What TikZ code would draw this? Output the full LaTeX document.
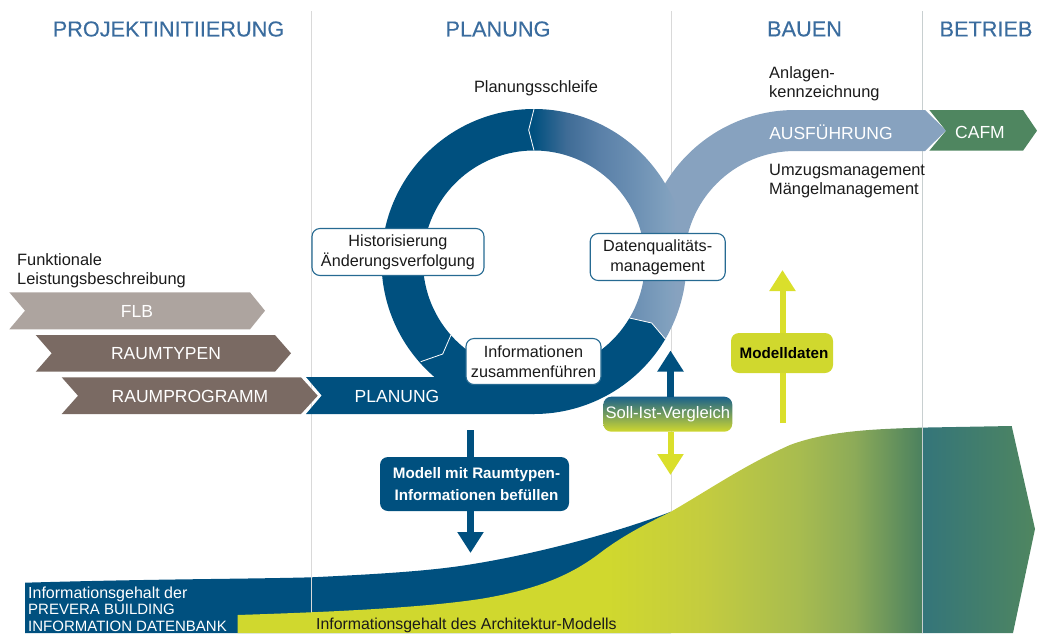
\documentclass[tikz,border=0pt]{standalone}
\usepackage{fontspec}
\setmainfont{Liberation Sans}
\newfontfamily\medfont[FakeBold=0.25]{Liberation Sans}
\usetikzlibrary{arrows.meta}
\definecolor{ink}{HTML}{1A1A1A}
\definecolor{head}{HTML}{3A6C9E}
\definecolor{dblue}{HTML}{00507F}
\definecolor{lblue}{HTML}{87A2BF}
\definecolor{rga}{HTML}{3F6C96}
\definecolor{rgb}{HTML}{5A80A8}
\definecolor{rgc}{HTML}{6B8FB3}
\definecolor{rgd}{HTML}{80A0BE}
\definecolor{yel}{HTML}{D0D82E}
\definecolor{stem}{HTML}{DADF2B}
\definecolor{yel2}{HTML}{C4CC3F}
\definecolor{yel3}{HTML}{A8BC4F}
\definecolor{yel4}{HTML}{8DAB58}
\definecolor{grn}{HTML}{4B815F}
\definecolor{teal}{HTML}{34757A}
\definecolor{cafm}{HTML}{4F8660}
\definecolor{taupe}{HTML}{7A6A63}
\definecolor{ltaupe}{HTML}{ADA49F}
\definecolor{rule}{HTML}{D9D9D9}
\pgfdeclarehorizontalshading{ringgrad}{100bp}{color(0bp)=(dblue); color(26.4bp)=(dblue); color(37bp)=(rga); color(47.5bp)=(rgb); color(58bp)=(rgc); color(68.7bp)=(rgd); color(72bp)=(lblue); color(100bp)=(lblue)}
\pgfdeclarehorizontalshading{areagrad}{100bp}{color(0bp)=(yel); color(52bp)=(yel); color(59bp)=(yel2); color(66bp)=(yel3); color(70bp)=(yel4); color(75bp)=(grn); color(100bp)=(grn)}
\pgfdeclarehorizontalshading{tealgrad}{100bp}{color(0bp)=(teal); color(25bp)=(teal); color(75bp)=(cafm); color(100bp)=(cafm)}
\tikzset{
  header/.style={text=head,font=\fontsize{21.7}{24}\medfont},
  plain/.style={text=ink,font=\fontsize{16.4}{19}\selectfont,inner sep=0pt},
  bar/.style={text=white,font=\fontsize{17.5}{19}\selectfont,inner sep=0pt},
  callout/.style={draw=dblue!85!white,line width=1.1pt,fill=white,rounded corners=8pt,align=center,text=ink,font=\fontsize{16.2}{20}\selectfont,inner sep=0pt,minimum width=#1},
  solidbox/.style={rounded corners=8pt,align=center,inner sep=0pt,font=\fontsize{15.2}{22}\selectfont\bfseries},
  sep/.style={white,line width=.8pt},
  rulev/.style={rule,line width=1pt},
  bluearrow/.style={dblue,line width=7pt,-{Triangle[width=25pt,length=21pt]}},
  yelarrow/.style={stem,line width=6pt,-{Triangle[width=25pt,length=21pt]}},
  bluestem/.style={dblue,line width=7pt},
  yelstem/.style={stem,line width=6pt},
}
\begin{document}
\begin{tikzpicture}[x=1pt,y=-1pt]
\useasboundingbox (0,0) rectangle (1037,633);
% rules behind
\coordinate (r1t) at (311.5,11); \coordinate (r1b) at (311.5,614);
\coordinate (r2t) at (671.5,11); \coordinate (r2b) at (671.5,514);
\coordinate (r3t) at (922,11);   \coordinate (r3b) at (922,633);
% blue information area
\fill[dblue] (25,582.7) .. controls (150,579) and (250,579) .. (311.6,577.3)
  .. controls (380,574) and (430,571) .. (470,564.5)
  .. controls (530,555) and (610,535) .. (671,511.7) -- (671,633) -- (25,633) -- cycle;
\draw[rulev] (r1t) -- (r1b);
\draw[rulev] (r2t) -- (r2b);
% yellow-green area
\path[shading=areagrad] (237.5,615) .. controls (330,612) and (420,608) .. (480,599)
  .. controls (535,590) and (570,576) .. (600,553)
  .. controls (625,534) and (650,522) .. (671,511.7)
  .. controls (715,486) and (745,465) .. (790,445)
  .. controls (830,430) and (880,429) .. (922,427.6) -- (922,633) -- (237.5,633) -- cycle;
\path[shading=tealgrad] (922,427.6) -- (1011.7,426) -- (1035,529) -- (1013,633) -- (922,633) -- cycle;
\draw[rule!90!teal,line width=1pt] (r3t) -- (r3b);
% band
\fill[lblue] (925,110) -- (795,110) arc[start angle=-90,end angle=-165,radius=151.5]
  -- (684.5,261.5) arc[start angle=-180,end angle=-90,radius=110.5]
  -- (925,151) -- (946,130.5) -- cycle;
% ring
\path[shading=ringgrad] (534,109) arc[start angle=-90,end angle=30.6,radius=152.5]
  -- (651.7,323) -- (629.5,318) arc[start angle=30.6,end angle=-90,radius=111]
  -- (528.7,130) -- cycle;
\fill[dblue] (534,109) arc[start angle=-90,end angle=-329.4,radius=152.5]
  -- (651.7,323) -- (629.5,318) arc[start angle=-329.4,end angle=-90,radius=111]
  -- (528.7,130) -- cycle;
\fill[dblue] (306,377) -- (440,377) -- (534,414) -- (306,414) -- (321.7,395.5) -- cycle;
\draw[sep] (534,109) -- (528.7,130) -- (534,150.5);
\draw[sep] (665.3,339) -- (651.7,323) -- (629.5,318);
\draw[sep] (420.7,361.7) -- (442.7,354) -- (451,335);
% chevrons
\fill[ltaupe] (9.3,292.3) -- (25,310.7) -- (9.3,329.3) -- (250,329.3) -- (265,310.7) -- (250,292.3) -- cycle;
\fill[taupe] (35.7,335) -- (51.7,353.3) -- (35.7,371.7) -- (275,371.7) -- (291,353.3) -- (275,335) -- cycle;
\fill[taupe] (61.7,377.3) -- (78,395.7) -- (61.7,414) -- (301,414) -- (317.7,395.7) -- (301,377.3) -- cycle;
\fill[cafm] (929.3,110) -- (946,130.7) -- (929.3,150.7) -- (1023,150.7) -- (1037,130.7) -- (1023,110) -- cycle;
% headers
\node[header] (h1) at (168.5,29) {PROJEKTINITIIERUNG};
\node[header] (h2) at (498,29) {PLANUNG};
\node[header] (h3) at (804.5,29) {BAUEN};
\node[header] (h4) at (986,29) {BETRIEB};
% plain labels
\node[plain] (schleife) at (536,88.5) {Planungsschleife};
\node[plain,anchor=west,align=left] (anlagen) at (769,83.5) {Anlagen-\\kennzeichnung};
\node[plain,anchor=west,align=left] (umzug) at (769,181) {Umzugsmanagement\\Mängelmanagement};
\node[plain,anchor=west,align=left] (flbtxt) at (17,271) {Funktionale\\Leistungsbeschreibung};
% bar labels
\node[bar] (ausf) at (831,132) {AUSFÜHRUNG};
\node[bar] (cafmn) at (980,132) {CAFM};
\node[bar] (plan) at (397,396) {PLANUNG};
\node[bar] (flb) at (137,311.5) {FLB};
\node[bar] (rt) at (166,353.5) {RAUMTYPEN};
\node[bar] (rp) at (190,396.5) {RAUMPROGRAMM};
% callouts
\node[callout=172pt,minimum height=47pt] (hist) at (398,252) {Historisierung\\Änderungsverfolgung};
\node[callout=135pt,minimum height=47pt] (dq) at (657.7,257) {Datenqualitäts-\\management};
\node[callout=135pt,minimum height=46pt] (info) at (533.5,361.5) {Informationen\\zusammenführen};
% arrows and solid boxes
\coordinate (a1) at (470.5,430); \coordinate (a2) at (470.5,553);
\coordinate (a3) at (670.5,350.5); \coordinate (a4) at (670.5,475);
\coordinate (a5) at (782.5,423); \coordinate (a6) at (782.5,270);
\node[solidbox,minimum width=189pt,minimum height=54pt,fill=dblue,text=white] (modell) at (474.5,484) {\kern4pt Modell mit Raumtypen-\\\kern4pt Informationen befüllen};
\node[solidbox,minimum width=129pt,minimum height=35pt,top color=dblue!90!white,bottom color=yel,shading angle=0,text=white,font=\fontsize{16.6}{18}\selectfont] (soll) at (667.8,414.2) {Soll-Ist-Vergleich};
\node[solidbox,minimum width=102pt,minimum height=40pt,fill=yel,text=black] (mdaten) at (782,353) {\kern4pt Modelldaten};
\draw[bluestem] (a1) -- (modell.north -| a1);
\draw[bluearrow] (modell.south -| a1) -- (a2);
\draw[bluearrow] (soll.north -| a3) -- (a3);
\draw[yelarrow] (soll.south -| a4) -- (a4);
\draw[yelarrow] (mdaten.north -| a6) -- (a6);
\draw[yelstem] (a5) -- (mdaten.south -| a5);
% area labels
\node[anchor=west,align=left,text=white,inner sep=0pt,font=\fontsize{15}{16.5}\selectfont] (pbid) at (28,609) {{\fontsize{16}{16.5}\selectfont Informationsgehalt der}\\PREVERA BUILDING\\INFORMATION DATENBANK};
\node[anchor=west,text=ink,inner sep=0pt,font=\fontsize{15.85}{16.5}\selectfont] (arch) at (316,625) {Informationsgehalt des Architektur-Modells};
\end{tikzpicture}
\end{document}
